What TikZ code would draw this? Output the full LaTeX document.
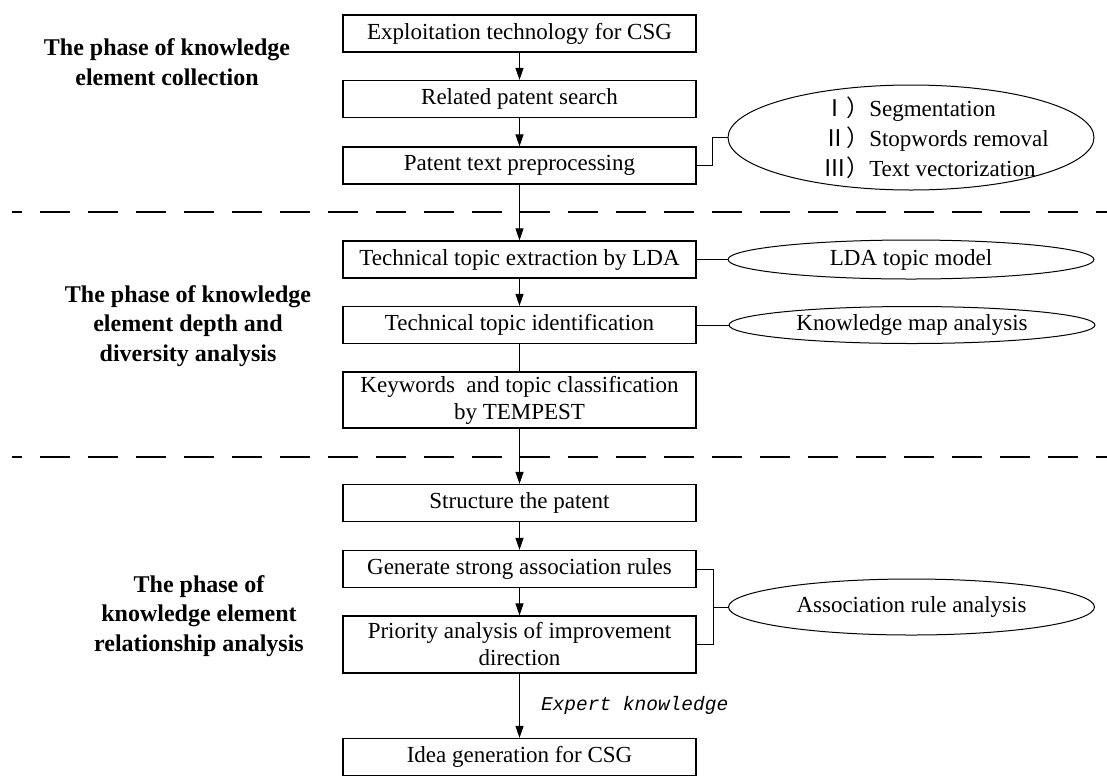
\documentclass[tikz,border=0pt]{standalone}
\usepackage{fontspec}
\setmainfont{Liberation Serif}
\newfontfamily\cjk{Noto Sans CJK SC}
\newfontfamily\expfont{Liberation Mono}
\usetikzlibrary{arrows.meta, shapes.geometric}

\tikzset{
  box/.style={draw, line width=1.2pt, minimum width=353pt, minimum height=37pt, inner sep=0pt, align=center, font=\fontsize{23}{27}\selectfont},
  oval/.style={draw, ellipse, line width=1pt, minimum width=366pt, inner sep=0pt, font=\fontsize{23}{30}\selectfont},
  phase/.style={align=center, font=\fontsize{24}{29.5}\selectfont\bfseries},
  flow/.style={-{Triangle[length=12pt,width=8pt]}, line width=1pt},
  link/.style={line width=1pt},
  sep/.style={line width=2.2pt, dash pattern=on 30pt off 18pt, dash phase=20pt},
}

\begin{document}
\begin{tikzpicture}[x=1pt, y=-1pt]
\useasboundingbox (0,0) rectangle (1107,780);
% phase separators
\draw[sep] (12,212) -- (1107,212);
\draw[sep] (12,457) -- (1107,457);
% phases
\node[phase] (p1) at (167,62) {The phase of knowledge\\element collection};
\node[phase] (p2) at (188,326) {The phase of knowledge\\element depth and\\diversity analysis};
\node[phase] (p3) at (199,616) {The phase of\\knowledge element\\relationship analysis};
% main flow
\node[box] (collect) at (519.5,33.5) {Exploitation technology for CSG};
\node[box] (search) at (519.5,99) {Related patent search};
\node[box] (prep) at (519.5,165.5) {Patent text preprocessing};
\node[box] (lda) at (519.5,259.5) {Technical topic extraction by LDA};
\node[box] (ident) at (519.5,325) {Technical topic identification};
\node[box, minimum height=56pt] (tempest) at (519.5,400) {Keywords~ and topic classification\\by TEMPEST};
\node[box] (struct) at (519.5,503) {Structure the patent};
\node[box] (rules) at (519.5,569) {Generate strong association rules};
\node[box, minimum height=57pt] (prio) at (519.5,644.5) {Priority analysis of improvement\\direction};
\node[box] (idea) at (519.5,757) {Idea generation for CSG};
% methods
\node[oval, minimum height=105pt] (steps) at (911,137.5) {};
\node[align=left, font=\fontsize{23}{30}\selectfont] (stepstxt) at (936,138) {{\cjk Ⅰ）}Segmentation\\{\cjk Ⅱ）}Stopwords removal\\{\cjk Ⅲ）}Text vectorization};
\node[oval, minimum height=39pt] (ldam) at (911,259.5) {LDA topic model};
\node[oval, minimum height=37pt] (kmap) at (912,325) {Knowledge map analysis};
\node[oval, minimum height=56pt] (assoc) at (911.5,607) {Association rule analysis};

\draw[flow] (collect) -- (search);
\draw[flow] (search) -- (prep);
\draw[flow] (prep) -- (lda);
\draw[flow] (lda) -- (ident);
\draw[link] (ident) -- (tempest);
\draw[flow] (tempest) -- (struct);
\draw[flow] (struct) -- (rules);
\draw[flow] (rules) -- (prio);
\draw[flow] (prio) -- node[right=21pt, inner sep=0pt, font=\fontsize{19.5}{20}\selectfont\expfont\itshape] (expert) {Expert knowledge} (idea);

\draw[link] (prep.east) -- ++(16,0) |- (steps.west);
\draw[link] (lda.east) -- (ldam.west);
\draw[link] (ident.east) -- (kmap.west);
\draw[link] (rules.east) -- ++(17,0) |- (prio.east);
\draw[link] (assoc.west) -- ++(-15,0);
\end{tikzpicture}
\end{document}
